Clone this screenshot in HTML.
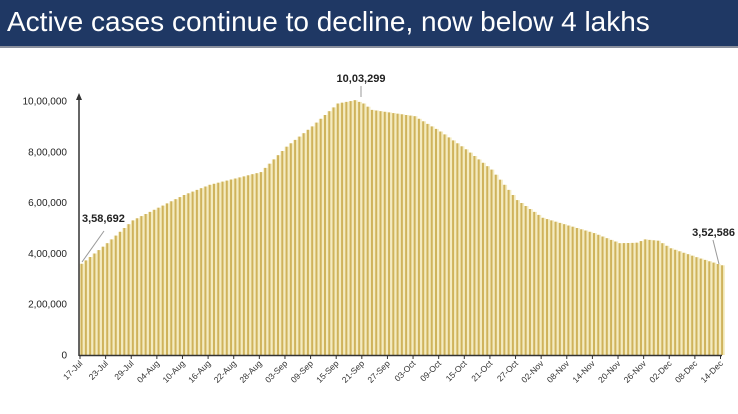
<!DOCTYPE html>
<html><head><meta charset="utf-8"><style>
body{margin:0;width:738px;height:414px;background:#fff;overflow:hidden;font-family:"Liberation Sans",sans-serif}
.hd{position:absolute;left:0;top:0;width:738px;height:46px;background:#1f3864;border-bottom:2px solid #8a8f9c}
.hd span{position:absolute;left:7px;top:6px;color:#fff;font-size:28px;letter-spacing:0px}
svg{position:absolute;left:0;top:0}
</style></head><body>
<div class="hd"><span>Active cases continue to decline, now below 4 lakhs</span></div>
<svg id="s" width="738" height="414" xmlns="http://www.w3.org/2000/svg"></svg>
<script>
var pts=[[0,3.59],[6,4.4],[12,5.3],[18,5.8],[24,6.3],[30,6.7],[36,6.95],[42,7.2],[48,8.2],[54,9.0],[60,9.9],[64,10.03],[66,9.9],[68,9.65],[72,9.55],[78,9.4],[84,8.8],[90,8.1],[96,7.3],[102,6.1],[108,5.4],[114,5.1],[120,4.8],[126,4.4],[130,4.42],[132,4.55],[135,4.5],[138,4.2],[144,3.85],[150,3.53]];
function v(d){for(var i=0;i<pts.length-1;i++){if(d>=pts[i][0]&&d<=pts[i+1][0]){var t=(d-pts[i][0])/(pts[i+1][0]-pts[i][0]);return pts[i][1]+t*(pts[i+1][1]-pts[i][1]);}}return 3.53;}
var x0=80,dx=4.27,y0=355,sc=25.4,h='';
for(var d=0;d<=150;d++){var x=x0+d*dx,y=y0-v(d)*sc;
h+='<rect x="'+(x-0.3).toFixed(2)+'" y="'+y.toFixed(1)+'" width="'+(dx+0.4).toFixed(2)+'" height="'+(y0-y).toFixed(1)+'" fill="#f4ebc0"/>';
h+='<rect x="'+(x+0.6).toFixed(2)+'" y="'+y.toFixed(1)+'" width="2" height="'+(y0-y).toFixed(1)+'" fill="#cfb35c"/>';}
h+='<line x1="79" y1="95" x2="79" y2="356" stroke="#333" stroke-width="1.5"/><polygon points="76,100 82,100 79,93" fill="#333"/>';
h+='<line x1="79" y1="355.5" x2="722" y2="355.5" stroke="#333" stroke-width="1.5"/>';
var yl=['0','2,00,000','4,00,000','6,00,000','8,00,000','10,00,000'];
for(var i=0;i<6;i++){h+='<text x="67" y="'+(y0-i*2*sc+3.5)+'" font-size="10" text-anchor="end" fill="#222">'+yl[i]+'</text>';}
var xl=['17-Jul','23-Jul','29-Jul','04-Aug','10-Aug','16-Aug','22-Aug','28-Aug','03-Sep','09-Sep','15-Sep','21-Sep','27-Sep','03-Oct','09-Oct','15-Oct','21-Oct','27-Oct','02-Nov','08-Nov','14-Nov','20-Nov','26-Nov','02-Dec','08-Dec','14-Dec'];
for(var i=0;i<xl.length;i++){var x=x0+i*6*dx;h+='<line x1="'+x+'" y1="355" x2="'+x+'" y2="359" stroke="#333"/>';
h+='<text transform="translate('+(x+3)+',364) rotate(-45)" font-size="8.5" text-anchor="end" fill="#333">'+xl[i]+'</text>';}
h+='<line x1="82" y1="262" x2="104" y2="231" stroke="#999"/><text x="82" y="222" font-size="11" font-weight="bold" fill="#222">3,58,692</text>';
h+='<line x1="361" y1="86" x2="361" y2="97" stroke="#999"/><text x="361" y="82" font-size="11" font-weight="bold" fill="#222" text-anchor="middle">10,03,299</text>';
h+='<line x1="713" y1="240" x2="719" y2="264" stroke="#999"/><text x="735" y="236" font-size="11" font-weight="bold" fill="#222" text-anchor="end">3,52,586</text>';
document.getElementById('s').innerHTML=h;
</script>
</body></html>
